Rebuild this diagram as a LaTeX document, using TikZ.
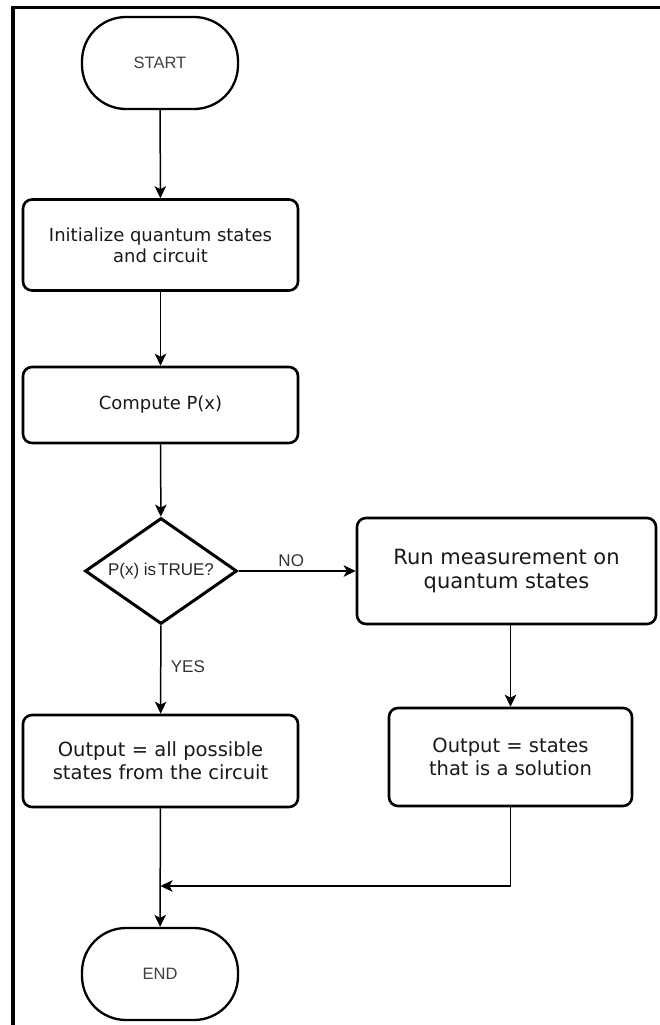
\documentclass[tikz,border=0pt]{standalone}
\usepackage{fontspec}
\setmainfont{DejaVu Sans}
\newfontfamily\arialfont{Liberation Sans}
\usetikzlibrary{shapes.geometric,arrows.meta}

\begin{document}
\begin{tikzpicture}[x=1pt, y=-1pt, >={Stealth[length=12pt,width=11.5pt,inset=3pt]},
		terminal/.style={draw, line width=2.3pt, rounded corners=44pt, minimum width=156pt, minimum height=92pt, inner sep=0pt, font=\arialfont\fontsize{16.5}{18}\selectfont, text=black!75},
		process/.style={draw, line width=2.6pt, rounded corners=9pt, align=center, inner sep=0pt, font=\fontsize{18}{21}\selectfont, text=black!90},
		decision/.style={draw, diamond, line width=3pt, aspect=1.43, minimum width=152pt, minimum height=106pt, inner sep=0pt, font=\arialfont\fontsize{17}{19}\selectfont, text=black!85},
		flow/.style={->, line width=1.5pt},
		lbl/.style={font=\arialfont\fontsize{17}{19}\selectfont, text=black!80}]
		\useasboundingbox (0,0) rectangle (660,1025);
		% frame (left and top only)
		\draw[line width=3.5pt] (13,1025) -- (13,7.5) -- (660,7.5);
		% main column
		\node[terminal] (start) at (160,63) {START};
		\node[process, minimum width=275pt, minimum height=91pt] (init) at (160.5,245) {Initialize quantum states\\and circuit};
		\node[process, minimum width=275pt, minimum height=76pt] (comp) at (160.5,405) {Compute P(x)};
		\node[decision] (dec) at (161,571) {P(x) is\hspace{0.12em}TRUE?};
		\node[process, minimum width=275pt, minimum height=92pt, font=\fontsize{19.5}{23}\selectfont] (outA) at (160.5,761) {Output = all possible\\states from the circuit};
		\node[terminal] (end) at (160,974) {END};
		% right branch
		\node[process, minimum width=299pt, minimum height=106pt, font=\fontsize{21}{24}\selectfont] (run) at (506.5,571) {Run measurement on\\quantum states};
		\node[process, minimum width=243pt, minimum height=98pt, font=\fontsize{19.5}{23}\selectfont] (outB) at (510.5,757) {Output = states\\that is a solution};
		\coordinate (join) at (160.5,886);
		% connectors
		\draw[flow] (start) -- (init);
		\draw[flow] (init) -- (comp);
		\draw[flow] (comp) -- (dec);
		\draw[flow] (dec) -- node[lbl, above, pos=0.45] {NO} (run);
		\draw[flow] (dec) -- node[lbl, right, pos=0.47, xshift=6pt] {YES} (outA);
		\draw[flow] (outB.north |- run.south) -- (outB.north);
		\draw[flow] (outA) -- (end);
		\draw[flow] (outB.south) |- (join);
	\end{tikzpicture}
\end{document}
